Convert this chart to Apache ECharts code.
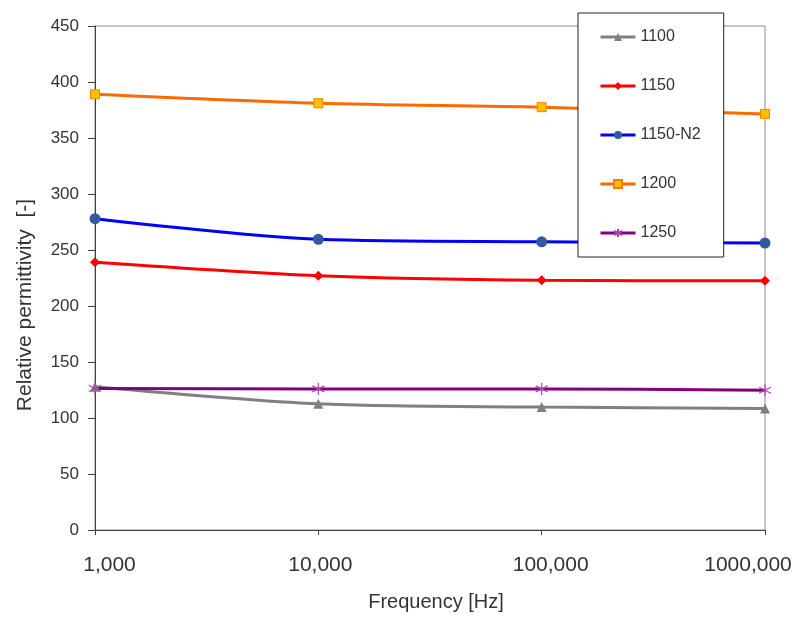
<!DOCTYPE html>
<html>
<head>
<meta charset="utf-8">
<script src="https://cdn.jsdelivr.net/npm/echarts@6/dist/echarts.min.js"></script>
<style>
html,body{margin:0;padding:0;background:#fff;}
#chart{width:797px;height:617px;}
</style>
</head>
<body>
<div id="chart"></div>
<script>
var frequencies = [1000, 10000, 100000, 1000000];
var xTickLabels = ['1,000', '10,000', '100,000', '1000,000'];
var seriesNames = ['1100', '1150', '1150-N2', '1200', '1250'];
var s1100 = [128, 112.7, 109.8, 108.5];
var s1150 = [239, 227, 223, 222.5];
var s1150N2 = [278, 259.5, 257.3, 256.2];
var s1200 = [389, 381, 377.5, 371.5];
var s1250 = [126.3, 126, 126, 124.8];

function pairs(vals) {
  return frequencies.map(function (f, i) { return [f, vals[i]]; });
}

var asterisk = 'path://M0,-1L0,1M-0.87,-0.5L0.87,0.5M-0.87,0.5L0.87,-0.5';

var chart = echarts.init(document.getElementById('chart'), null, {renderer: 'canvas'});
var font = 'Liberation Sans, Arial, sans-serif';

chart.setOption({
  backgroundColor: '#ffffff',
  animation: false,
  textStyle: {fontFamily: font},
  grid: {
    left: 95, right: 32, top: 26, bottom: 84,
    show: true, borderColor: '#8c8c8c', borderWidth: 1, backgroundColor: '#ffffff'
  },
  legend: {
    orient: 'vertical',
    left: 578, top: 13,
    padding: [16, 23, 16, 21],
    itemWidth: 35, itemHeight: 10, itemGap: 33,
    lineStyle: {width: 3},
    backgroundColor: '#ffffff',
    borderColor: '#222222', borderWidth: 1,
    textStyle: {fontFamily: font, fontSize: 16, color: '#333333', lineHeight: 16},
    data: seriesNames
  },
  xAxis: {
    type: 'log', logBase: 10, min: 1000, max: 1000000,
    name: 'Frequency [Hz]', nameLocation: 'middle', nameGap: 62,
    nameTextStyle: {fontFamily: font, fontSize: 20, color: '#333333', padding: [0, 0, 0, 12]},
    axisLine: {show: true, lineStyle: {color: '#404040', width: 1}},
    axisTick: {show: true, length: 5, lineStyle: {color: '#404040'}},
    minorTick: {show: false},
    splitLine: {show: false},
    axisLabel: {
      margin: 25, color: '#333333', fontSize: 21, fontFamily: font,
      formatter: function (v) {
        var i = Math.round(Math.log10(v)) - 3;
        var styles = ['a', 'b', 'c', 'd'];
        return '{' + styles[i] + '|' + xTickLabels[i] + '}';
      },
      rich: {
        a: {fontSize: 21, fontFamily: font, color: '#333333', padding: [0, 0, 0, 29]},
        b: {fontSize: 21, fontFamily: font, color: '#333333', padding: [0, 0, 0, 4]},
        c: {fontSize: 21, fontFamily: font, color: '#333333', padding: [0, 0, 0, 18]},
        d: {fontSize: 21, fontFamily: font, color: '#333333', padding: [0, 34, 0, 0]}
      }
    }
  },
  yAxis: {
    type: 'value', min: 0, max: 450, interval: 50,
    name: 'Relative permittivity  [-]', nameLocation: 'middle', nameGap: 59,
    nameTextStyle: {fontFamily: font, fontSize: 21, color: '#333333', padding: [0, 54, 0, 0]},
    axisLine: {show: true, lineStyle: {color: '#404040', width: 1}},
    axisTick: {show: true, length: 7, lineStyle: {color: '#404040'}},
    splitLine: {show: false},
    axisLabel: {margin: 16, color: '#333333', fontSize: 17, fontFamily: font}
  },
  series: [
    {
      name: '1100', type: 'line', data: pairs(s1100), smooth: 0.3,
      symbol: 'triangle', symbolSize: 10,
      lineStyle: {color: '#808080', width: 3},
      itemStyle: {color: '#808080'}
    },
    {
      name: '1150', type: 'line', data: pairs(s1150), smooth: 0.3,
      symbol: 'diamond', symbolSize: 10,
      lineStyle: {color: '#ff0000', width: 3},
      itemStyle: {color: '#ff0000'}
    },
    {
      name: '1150-N2', type: 'line', data: pairs(s1150N2), smooth: 0.3,
      symbol: 'circle', symbolSize: 11,
      lineStyle: {color: '#0000ff', width: 3},
      itemStyle: {color: '#31599c'}
    },
    {
      name: '1200', type: 'line', data: pairs(s1200), smooth: 0.3,
      symbol: 'rect', symbolSize: 9,
      lineStyle: {color: '#ff6a00', width: 3},
      itemStyle: {color: '#ffc000', borderColor: '#ff7f00', borderWidth: 1}
    },
    {
      name: '1250', type: 'line', data: pairs(s1250), smooth: 0.3,
      symbol: asterisk, symbolSize: 12,
      lineStyle: {color: '#800080', width: 3},
      itemStyle: {color: '#b040b0', borderColor: '#b040b0', borderWidth: 1.2}
    }
  ]
});
</script>
</body>
</html>
